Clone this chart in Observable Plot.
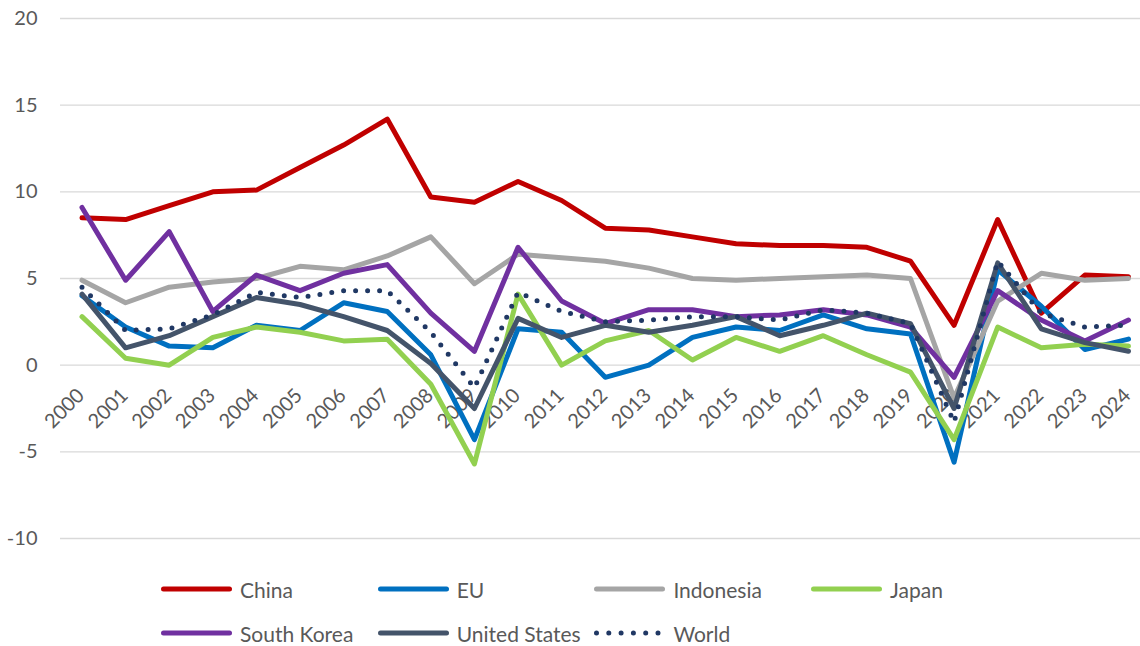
<!DOCTYPE html>
<html>
<head>
<meta charset="utf-8">
<script src="https://cdn.jsdelivr.net/npm/d3@7"></script>
<script src="https://cdn.jsdelivr.net/npm/@observablehq/plot@0.6"></script>
<style>
  html, body { margin: 0; padding: 0; background: #fff; }
  #wrap { position: relative; width: 1140px; height: 646px; font-family: Lato, "Open Sans", sans-serif; }
  #legend { position: absolute; left: 0; top: 567px; width: 1140px; height: 88px; }
  .item { position: absolute; height: 44px; display: flex; align-items: center; }
  .item svg { flex: none; }
  .item span { display: inline-block; font-size: 21px; color: #595959; white-space: nowrap; margin-left: 6px; }
</style>
</head>
<body>
<div id="wrap">
  <div id="chart"></div>
  <div id="legend"></div>
</div>
<script>
const years = ["2000","2001","2002","2003","2004","2005","2006","2007","2008","2009","2010","2011","2012","2013","2014","2015","2016","2017","2018","2019","2020","2021","2022","2023","2024"];
const seriesNames = ["China","EU","Indonesia","Japan","South Korea","United States","World"];
const china     = [8.5,8.4,9.2,10.0,10.1,11.4,12.7,14.2,9.7,9.4,10.6,9.5,7.9,7.8,7.4,7.0,6.9,6.9,6.8,6.0,2.3,8.4,3.0,5.2,5.1];
const eu        = [4.0,2.2,1.1,1.0,2.3,2.0,3.6,3.1,0.6,-4.3,2.1,1.9,-0.7,0.0,1.6,2.2,2.0,2.9,2.1,1.8,-5.6,5.5,3.4,0.9,1.5];
const indonesia = [4.9,3.6,4.5,4.8,5.0,5.7,5.5,6.3,7.4,4.7,6.4,6.2,6.0,5.6,5.0,4.9,5.0,5.1,5.2,5.0,-1.9,3.7,5.3,4.9,5.0];
const japan     = [2.8,0.4,0.0,1.6,2.2,1.9,1.4,1.5,-1.1,-5.7,4.1,0.0,1.4,2.0,0.3,1.6,0.8,1.7,0.6,-0.4,-4.3,2.2,1.0,1.2,1.1];
const korea     = [9.1,4.9,7.7,3.1,5.2,4.3,5.3,5.8,3.0,0.8,6.8,3.7,2.4,3.2,3.2,2.8,2.9,3.2,2.9,2.2,-0.7,4.3,2.6,1.4,2.6];
const us        = [4.1,1.0,1.7,2.8,3.9,3.5,2.8,2.0,0.1,-2.5,2.7,1.6,2.3,1.9,2.3,2.8,1.7,2.3,3.0,2.4,-2.5,5.9,2.1,1.3,0.8];
const world     = [4.5,2.0,2.1,2.9,4.2,3.9,4.3,4.3,1.9,-1.3,4.2,3.1,2.5,2.6,2.8,2.8,2.6,3.2,3.0,2.4,-3.3,6.0,3.0,2.2,2.3];
const yTicks = [-10,-5,0,5,10,15,20];
const yTickLabels = ["-10","-5","0","5","10","15","20"];

const seriesValues = [china, eu, indonesia, japan, korea, us, world];
const colors = ["#C00000","#0070C0","#A5A5A5","#92D050","#7030A0","#44546A","#203864"];
const dotted = [false,false,false,false,false,false,true];

const rows = [];
seriesNames.forEach((name, s) => {
  seriesValues[s].forEach((v, i) => rows.push({series: name, year: years[i], value: v}));
});

const lineMarks = seriesNames.map((name, s) =>
  Plot.line(rows.filter(r => r.series === name), {
    x: "year", y: "value",
    stroke: colors[s],
    strokeWidth: 5,
    strokeLinejoin: "round",
    strokeLinecap: "round",
    strokeDasharray: dotted[s] ? "0 12" : null
  })
);

const chart = Plot.plot({
  width: 1140,
  height: 560,
  marginLeft: 60,
  marginRight: 0,
  marginTop: 18,
  marginBottom: 22,
  style: {fontFamily: "Lato, 'Open Sans', sans-serif", background: "#fff", overflow: "visible"},
  x: {type: "point", domain: years, range: [81.5, 1128], padding: 0, round: false, axis: null},
  y: {domain: [-10, 20], axis: null},
  marks: [
    Plot.ruleY(yTicks, {stroke: "#D9D9D9", strokeWidth: 1.4}),
    Plot.text(yTicks, {y: d => d, text: (d, i) => yTickLabels[i], frameAnchor: "left", textAnchor: "end", dx: -23, fontSize: 20, fill: "#595959"}),
    Plot.text(years, {x: d => d, y: 0, text: d => d, rotate: -45, textAnchor: "end", dx: -1, dy: 27, fontSize: 20, fill: "#595959"}),
    ...lineMarks
  ]
});
document.getElementById("chart").appendChild(chart);

// Legend
const legend = document.getElementById("legend");
seriesNames.forEach((name, s) => {
  const col = s < 4 ? s : s - 4;
  const row = s < 4 ? 0 : 1;
  const item = document.createElement("div");
  item.className = "item";
  item.style.left = (158 + col * 216.7) + "px";
  item.style.top = (row * 44) + "px";
  const ns = "http://www.w3.org/2000/svg";
  const svg = document.createElementNS(ns, "svg");
  svg.setAttribute("width", 76);
  svg.setAttribute("height", 12);
  const ln = document.createElementNS(ns, "line");
  ln.setAttribute("y1", 6); ln.setAttribute("y2", 6);
  ln.setAttribute("x1", 5.5);
  ln.setAttribute("x2", dotted[s] ? 68 : 71.5);
  ln.setAttribute("stroke-width", 5);
  if (dotted[s]) ln.setAttribute("stroke-dasharray", "0 12.3");
  ln.setAttribute("stroke", colors[s]);
  ln.setAttribute("stroke-linecap", "round");
  svg.appendChild(ln);
  item.appendChild(svg);
  const t = document.createElement("span");
  t.textContent = name;
  item.appendChild(t);
  legend.appendChild(item);
});
</script>
</body>
</html>
